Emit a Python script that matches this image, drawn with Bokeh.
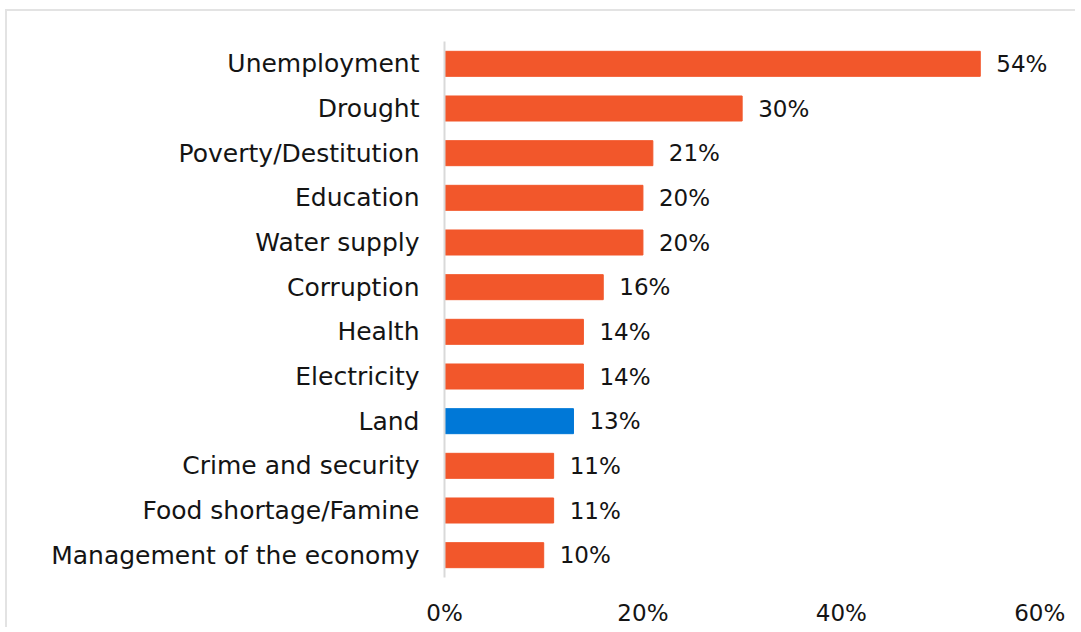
from bokeh.plotting import figure
from bokeh.models import ColumnDataSource, FactorRange, FixedTicker, PrintfTickFormatter, Range1d
from bokeh.core.properties import value
from bokeh.embed import file_html
from bokeh.resources import INLINE

categories = ["Unemployment", "Drought", "Poverty/Destitution", "Education", "Water supply",
              "Corruption", "Health", "Electricity", "Land", "Crime and security",
              "Food shortage/Famine", "Management of the economy"]
values = [54, 30, 21, 20, 20, 16, 14, 14, 13, 11, 11, 10]
highlight = "Land"
ticks = [0, 20, 40, 60]

ORANGE = "#F2572B"
BLUE = "#0078D7"
FONT = "DejaVu Sans"
TXT = "#141414"

colors = [BLUE if c == highlight else ORANGE for c in categories]
labels = [f"{v}%" for v in values]
src = ColumnDataSource(dict(cat=categories, val=values, color=colors, label=labels))

p = figure(width=1070, height=618, output_backend="svg", toolbar_location=None,
           y_range=FactorRange(factors=list(reversed(categories)), range_padding=0),
           x_range=Range1d(0, 63.8),
           min_border_left=437, min_border_right=0, min_border_top=30, min_border_bottom=52)
p.styles = {"margin-left": "5px", "margin-top": "9px",
            "border-left": "2px solid #e3e3e3", "border-top": "2px solid #e3e3e3"}

p.hbar(y="cat", right="val", left=0, height=0.56, color="color", source=src)
p.text(x="val", y="cat", text="label", source=src, x_offset=16,
       text_align="left", text_baseline="middle", text_font=value(FONT),
       text_font_size="23px", text_color=TXT)

p.outline_line_color = None
p.xgrid.grid_line_color = None
p.ygrid.grid_line_color = None

p.xaxis.ticker = FixedTicker(ticks=ticks)
p.xaxis.formatter = PrintfTickFormatter(format="%d%%")
p.xaxis.axis_line_color = None
p.xaxis.major_tick_line_color = None
p.xaxis.minor_tick_line_color = None
p.xaxis.major_label_standoff = 16
p.xaxis.major_label_text_font = FONT
p.xaxis.major_label_text_font_size = "23px"
p.xaxis.major_label_text_color = TXT

p.yaxis.axis_line_color = "#d9d9d9"
p.yaxis.axis_line_width = 2
p.yaxis.major_tick_line_color = None
p.yaxis.minor_tick_line_color = None
p.yaxis.major_label_standoff = 19
p.yaxis.major_label_text_font = FONT
p.yaxis.major_label_text_font_size = "25px"
p.yaxis.major_label_text_color = TXT

open("out.html", "w").write(file_html(p, INLINE))
